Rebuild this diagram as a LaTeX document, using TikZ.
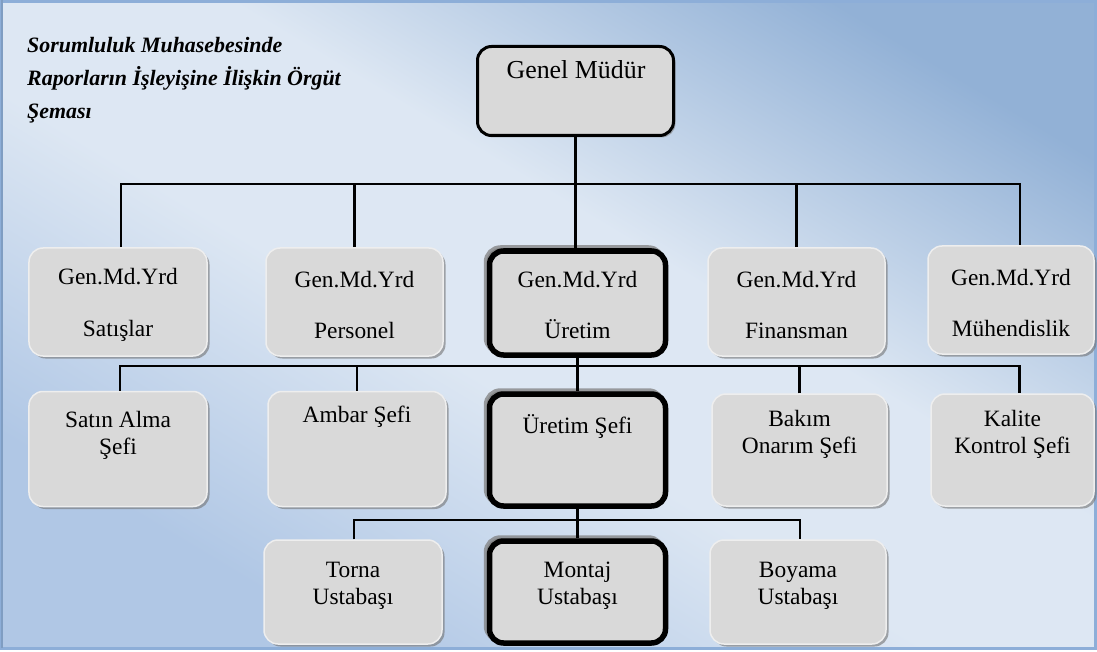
\documentclass[tikz,border=0pt]{standalone}
\usepackage{fontspec}
\setmainfont{Liberation Serif}
\usetikzlibrary{shadows,calc}

\definecolor{bgTR}{RGB}{146,177,214}
\definecolor{bgMid}{RGB}{221,231,243}
\definecolor{bgBL}{RGB}{176,199,229}
\definecolor{frameblue}{RGB}{141,174,216}
\definecolor{boxfill}{RGB}{217,217,217}
\definecolor{rim}{RGB}{238,238,238}

% diagonal backdrop: blue towards the upper right, paler blue towards the lower left
\pgfdeclarehorizontalshading{bgdiag}{100bp}{color(0bp)=(bgBL); color(27bp)=(bgBL); color(45bp)=(bgMid); color(57bp)=(bgMid); color(76bp)=(bgTR); color(100bp)=(bgTR)}

\tikzset{
  conn/.style={draw=black, line width=2.2bp},
  lbox/.style={rectangle, rounded corners=14bp, fill=boxfill, draw=rim, line width=1.5bp,
    inner sep=0pt,
    drop shadow={shadow xshift=2.5bp, shadow yshift=-2.5bp, fill=black!55, opacity=.6}},
  hbox/.style={rectangle, rounded corners=14bp, fill=boxfill, draw=black, line width=5.5bp,
    inner sep=0pt,
    drop shadow={shadow xshift=-3bp, shadow yshift=3bp, fill=gray, draw=gray, line width=5.5bp, opacity=.75}},
  topbox/.style={rectangle, rounded corners=14bp, fill=boxfill, draw=black, line width=3bp,
    inner sep=0pt,
    drop shadow={shadow xshift=2bp, shadow yshift=-2bp, fill=black!50, opacity=.6}},
  txt/.style={font=\fontsize{23.5}{27}\selectfont, align=center, inner sep=0pt},
  title/.style={font=\fontsize{22}{33}\selectfont\bfseries\itshape, align=left, inner sep=0pt}
}

\begin{document}
\begin{tikzpicture}[x=1bp, y=-1bp]
  \useasboundingbox (0,0) rectangle (1097,652);
  % backdrop
  \fill[white] (0,0) rectangle (1097,652);
  \shade[shading=bgdiag, shading angle=59] (0,0) rectangle (1095,649);
  \draw[frameblue, line width=3bp] (1.5,1.5) rectangle (1095,648);
  \draw[frameblue!90!black, line width=2bp] (2,0) -- (2,648);

  % heading
  \node[title, anchor=north west] (head) at (27,37)
    {Sorumluluk Muhasebesinde\\Raporların İşleyişine İlişkin Örgüt\\Şeması};

  % bus levels
  \coordinate (b1) at (0,184);
  \coordinate (b2) at (0,366);
  \coordinate (b3) at (0,520);

  % boxes
  \node[topbox, minimum width=196bp, minimum height=89bp] (gm) at (575.5,91) {};

  \node[lbox, minimum width=178bp, minimum height=108bp] (sat) at (118,302) {};
  \node[lbox, minimum width=177bp, minimum height=108bp] (per) at (354.5,302) {};
  \node[hbox, minimum width=176bp, minimum height=104bp] (ure) at (577.5,303) {};
  \node[lbox, minimum width=177bp, minimum height=108bp] (fin) at (796.5,302) {};
  \node[lbox, minimum width=166bp, minimum height=108bp] (muh) at (1011,300) {};

  \node[lbox, minimum width=178bp, minimum height=115bp] (satin) at (118,449) {};
  \node[lbox, minimum width=178bp, minimum height=115bp] (ambar) at (357,449) {};
  \node[hbox, minimum width=176bp, minimum height=112bp] (uresef) at (577.5,450) {};
  \node[lbox, minimum width=175bp, minimum height=112bp] (bakim) at (799.5,450) {};
  \node[lbox, minimum width=163bp, minimum height=112bp] (kalite) at (1012.5,450) {};

  \node[lbox, minimum width=178bp, minimum height=104bp] (torna) at (353,592) {};
  \node[hbox, minimum width=176bp, minimum height=102bp] (montaj) at (577.5,592) {};
  \node[lbox, minimum width=176bp, minimum height=104bp] (boyama) at (798,592) {};

  % connectors
  \draw[conn] (gm.south) -- (gm.south |- ure.north);
  \draw[conn] ([xshift=3bp]sat.north) -- ([xshift=3bp]sat.north |- b1)
              -- ([xshift=9bp]muh.north |- b1) -- ([xshift=9bp]muh.north);
  \draw[conn] (per.north) -- (per.north |- b1);
  \draw[conn] (fin.north) -- (fin.north |- b1);

  \draw[conn] (ure.south) -- (uresef.north);
  \draw[conn] ([xshift=2bp]satin.north) -- ([xshift=2bp]satin.north |- b2)
              -- ([xshift=7bp]kalite.north |- b2) -- ([xshift=7bp]kalite.north);
  \draw[conn] (ambar.north) -- (ambar.north |- b2);
  \draw[conn] (bakim.north) -- (bakim.north |- b2);

  \draw[conn] (uresef.south) -- (montaj.north);
  \draw[conn] ([xshift=1bp]torna.north) -- ([xshift=1bp]torna.north |- b3)
              -- ([xshift=2bp]boyama.north |- b3) -- ([xshift=2bp]boyama.north);

  % labels
  \node[txt, font=\fontsize{26}{30}\selectfont] (gmT) at (576,70) {Genel Müdür};

  \node[txt] (satT) at (118,305) {Gen.Md.Yrd\\[25bp]Satışlar};
  \node[txt] (perT) at (354.5,305) {Gen.Md.Yrd\\[25bp]Personel};
  \node[txt] (ureT) at (577.5,305) {Gen.Md.Yrd\\[25bp]Üretim};
  \node[txt] (finT) at (796.5,305) {Gen.Md.Yrd\\[25bp]Finansman};
  \node[txt] (muhT) at (1011,303) {Gen.Md.Yrd\\[25bp]Mühendislik};

  \node[txt] (satinT) at (118,435) {Satın Alma\\Şefi};
  \node[txt] (ambarT) at (357,417) {Ambar Şefi};
  \node[txt] (uresefT) at (577.5,427) {Üretim Şefi};
  \node[txt] (bakimT) at (799.5,434) {Bakım\\Onarım Şefi};
  \node[txt] (kaliteT) at (1012.5,434) {Kalite\\Kontrol Şefi};

  \node[txt] (tornaT) at (353,586) {Torna\\Ustabaşı};
  \node[txt] (montajT) at (577.5,586) {Montaj\\Ustabaşı};
  \node[txt] (boyamaT) at (798,586) {Boyama\\Ustabaşı};
\end{tikzpicture}
\end{document}
